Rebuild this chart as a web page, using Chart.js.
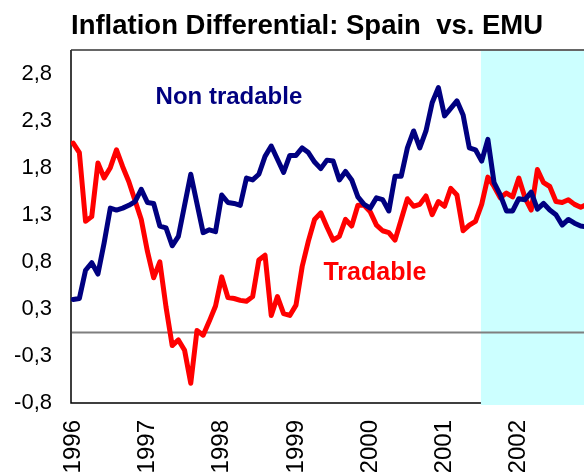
<!DOCTYPE html>
<html>
<head>
<meta charset="utf-8">
<script src="https://cdn.jsdelivr.net/npm/chart.js@4.4.1/dist/chart.umd.min.js"></script>
<style>
  html, body { margin: 0; padding: 0; background: #fff; overflow: hidden; }
  #chart { display: block; }
</style>
</head>
<body>
<canvas id="chart" width="584" height="472"></canvas>
<script>
const startYear = 1996;
const yearTicks = [1996, 1997, 1998, 1999, 2000, 2001, 2002];
const yearLabels = ['1996', '1997', '1998', '1999', '2000', '2001', '2002'];
const yTickValues = [-0.75, -0.25, 0.25, 0.75, 1.25, 1.75, 2.25, 2.75];
const yTickLabels = ['-0,8', '-0,3', '0,3', '0,8', '1,3', '1,8', '2,3', '2,8'];

// monthly, Jan 1996 onwards
const nonTradable = [
  0.35, 0.36, 0.66, 0.74, 0.62, 0.95, 1.32, 1.30, 1.32, 1.35, 1.39, 1.52,
  1.38, 1.37, 1.13, 1.11, 0.92, 1.02, 1.35, 1.68, 1.37, 1.06, 1.09, 1.07,
  1.46, 1.38, 1.37, 1.35, 1.64, 1.62, 1.68, 1.87, 1.98, 1.84, 1.70, 1.88,
  1.88, 1.96, 1.91, 1.81, 1.74, 1.83, 1.82, 1.62, 1.71, 1.62, 1.44, 1.36,
  1.32, 1.43, 1.41, 1.29, 1.66, 1.66, 1.96, 2.14, 1.96, 2.14, 2.44, 2.60,
  2.30, 2.38, 2.46, 2.31, 1.96, 1.94, 1.82, 2.05, 1.59, 1.46, 1.29, 1.29,
  1.42, 1.41, 1.49, 1.31, 1.37, 1.30, 1.25, 1.14, 1.20, 1.16, 1.13, 1.12
];
const tradable = [
  2.01, 1.91, 1.18, 1.23, 1.80, 1.64, 1.75, 1.94, 1.76, 1.60, 1.40, 1.20,
  0.86, 0.58, 0.75, 0.27, -0.14, -0.08, -0.19, -0.54, 0.02, -0.03, 0.12, 0.28,
  0.59, 0.37, 0.36, 0.34, 0.33, 0.38, 0.77, 0.82, 0.18, 0.38, 0.20, 0.18,
  0.29, 0.70, 0.97, 1.20, 1.27, 1.12, 0.98, 1.02, 1.20, 1.13, 1.35, 1.35,
  1.28, 1.14, 1.08, 1.06, 0.98, 1.20, 1.42, 1.34, 1.36, 1.45, 1.25, 1.39,
  1.34, 1.53, 1.46, 1.08, 1.14, 1.18, 1.36, 1.65, 1.55, 1.43, 1.48, 1.44,
  1.64, 1.43, 1.30, 1.73, 1.59, 1.55, 1.39, 1.38, 1.41, 1.36, 1.33, 1.36
];

const shadeFrom = 2001.49;   // shaded period starts mid 2001
const xMin = startYear - 0.35 / 12;
const xMax = startYear + 82.53 / 12;

const navy = '#000080';
const red = '#ff0000';
const fontFamily = 'Arial, "Liberation Sans", sans-serif';

const toPoints = arr => arr.map((v, i) => ({ x: startYear + i / 12, y: v }));

const framePlugin = {
  id: 'frame',
  beforeDatasetsDraw(chart) {
    const { ctx, chartArea: a, scales: { x, y } } = chart;
    ctx.save();
    ctx.strokeStyle = '#000';
    ctx.lineWidth = 1.5;
    ctx.beginPath();
    ctx.moveTo(a.left, a.top);
    ctx.lineTo(a.left, a.bottom);
    ctx.lineTo(a.right + 5, a.bottom);
    ctx.stroke();
    ctx.strokeStyle = '#333';
    ctx.beginPath();
    ctx.moveTo(a.left, a.top);
    ctx.lineTo(a.right + 5, a.top);
    ctx.stroke();

    const sx = x.getPixelForValue(shadeFrom);
    ctx.fillStyle = '#ccffff';
    ctx.fillRect(sx, a.top + 1, a.right - sx + 5, a.bottom - a.top + 1);

    const zy = y.getPixelForValue(0);
    ctx.strokeStyle = '#7f7f7f';
    ctx.lineWidth = 2;
    ctx.beginPath();
    ctx.moveTo(a.left + 1, zy);
    ctx.lineTo(a.right + 5, zy);
    ctx.stroke();
    ctx.restore();
  },
  afterDatasetsDraw(chart) {
    const { ctx, scales: { x, y } } = chart;
    ctx.save();
    ctx.textBaseline = 'alphabetic';
    ctx.textAlign = 'left';
    ctx.font = 'bold 24px ' + fontFamily;
    ctx.fillStyle = navy;
    ctx.fillText('Non tradable', x.getPixelForValue(1997.11), y.getPixelForValue(2.43));
    ctx.font = 'bold 25px ' + fontFamily;
    ctx.fillStyle = red;
    ctx.fillText('Tradable', x.getPixelForValue(1999.37), y.getPixelForValue(0.56));
    ctx.restore();
  }
};

const chart = new Chart(document.getElementById('chart'), {
  type: 'line',
  data: {
    datasets: [
      {
        label: 'Non tradable',
        data: toPoints(nonTradable),
        borderColor: navy,
        borderWidth: 5,
        pointRadius: 0,
        borderJoinStyle: 'round',
        borderCapStyle: 'round',
        tension: 0
      },
      {
        label: 'Tradable',
        data: toPoints(tradable),
        borderColor: red,
        borderWidth: 5,
        pointRadius: 0,
        borderJoinStyle: 'round',
        borderCapStyle: 'round',
        tension: 0
      }
    ]
  },
  options: {
    responsive: false,
    animation: false,
    layout: { padding: 0 },
    plugins: {
      legend: { display: false },
      tooltip: { enabled: false },
      title: {
        display: true,
        text: 'Inflation Differential: Spain  vs. EMU',
        align: 'start',
        fullSize: false,
        color: '#000',
        font: { family: fontFamily, size: 27.5, weight: 'bold', lineHeight: 1.2 },
        padding: { top: 10, bottom: 7 }
      }
    },
    scales: {
      x: {
        type: 'linear',
        min: xMin,
        max: xMax,
        grid: { display: false, drawTicks: false },
        border: { display: false },
        afterBuildTicks: s => { s.ticks = yearTicks.map(v => ({ value: v })); },
        afterFit: s => { s.height = 69; },
        ticks: {
          autoSkip: false,
          minRotation: 90,
          maxRotation: 90,
          padding: 17,
          color: '#000',
          font: { family: fontFamily, size: 24 },
          callback: (v, i) => yearLabels[i]
        }
      },
      y: {
        min: -0.75,
        max: 3.0,
        grid: { display: false, drawTicks: false },
        border: { display: false },
        afterBuildTicks: s => { s.ticks = yTickValues.map(v => ({ value: v })); },
        afterFit: s => { s.width = 71; },
        ticks: {
          padding: 19,
          color: '#000',
          font: { family: fontFamily, size: 22 },
          callback: (v, i) => yTickLabels[i]
        }
      }
    }
  },
  plugins: [framePlugin]
});
</script>
</body>
</html>
